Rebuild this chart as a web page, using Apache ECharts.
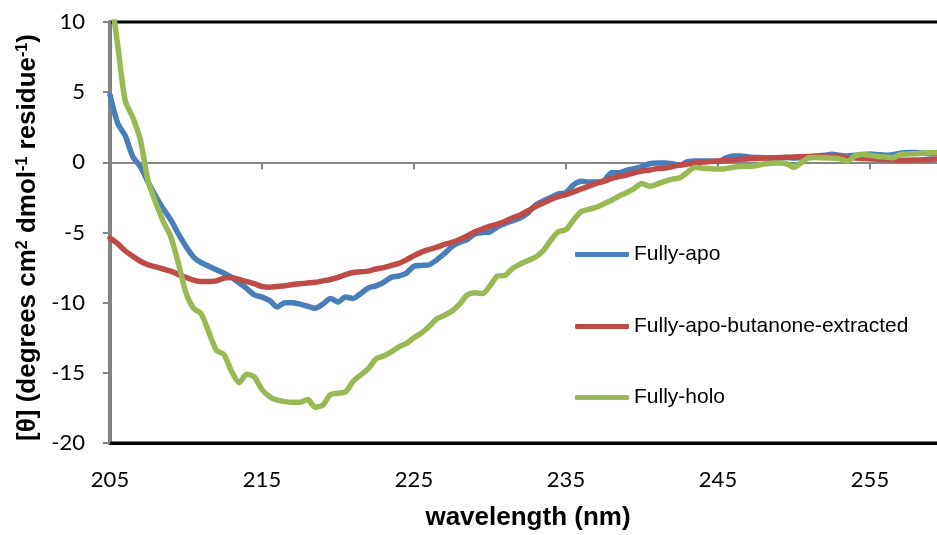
<!DOCTYPE html>
<html>
<head>
<meta charset="utf-8">
<script src="https://cdn.jsdelivr.net/npm/echarts@6/dist/echarts.min.js"></script>
<style>
html, body { margin: 0; padding: 0; background: #fff; }
#chart { width: 937px; height: 535px; }
</style>
</head>
<body>
<div id="chart"></div>
<script>
// CD spectra sampled every 0.5 nm, 205–260 nm
const wavelength = [
  205, 205.5, 206, 206.5, 207, 207.5, 208, 208.5, 209, 209.5,
  210, 210.5, 211, 211.5, 212, 212.5, 213, 213.5, 214, 214.5,
  215, 215.5, 216, 216.5, 217, 217.5, 218, 218.5, 219, 219.5,
  220, 220.5, 221, 221.5, 222, 222.5, 223, 223.5, 224, 224.5,
  225, 225.5, 226, 226.5, 227, 227.5, 228, 228.5, 229, 229.5,
  230, 230.5, 231, 231.5, 232, 232.5, 233, 233.5, 234, 234.5,
  235, 235.5, 236, 236.5, 237, 237.5, 238, 238.5, 239, 239.5,
  240, 240.5, 241, 241.5, 242, 242.5, 243, 243.5, 244, 244.5,
  245, 245.5, 246, 246.5, 247, 247.5, 248, 248.5, 249, 249.5,
  250, 250.5, 251, 251.5, 252, 252.5, 253, 253.5, 254, 254.5,
  255, 255.5, 256, 256.5, 257, 257.5, 258, 258.5, 259, 259.5,
  260
];

const fullyApo = [
  4.8, 2.8, 1.9, 0.4, -0.3, -1.4, -2.4, -3.3, -4.1, -5.1,
  -6.0, -6.75, -7.15, -7.4, -7.65, -7.9, -8.2, -8.6, -9.0, -9.45,
  -9.6, -9.85, -10.3, -10.0, -10.0, -10.1, -10.25, -10.4, -10.1, -9.7,
  -9.95, -9.6, -9.7, -9.35, -8.95, -8.8, -8.55, -8.2, -8.1, -7.9,
  -7.4, -7.35, -7.3, -6.95, -6.5, -6.0, -5.7, -5.5, -5.1, -5.0,
  -4.95, -4.6, -4.35, -4.15, -3.95, -3.6, -3.05, -2.75, -2.5, -2.25,
  -2.15, -1.6, -1.35, -1.4, -1.4, -1.3, -0.75, -0.75, -0.55, -0.45,
  -0.3, -0.1, -0.05, -0.05, -0.1, -0.2, 0.05, 0.1, 0.1, 0.1,
  0.05, 0.3, 0.45, 0.45, 0.38, 0.35, 0.33, 0.3, 0.3, 0.35,
  0.3, 0.35, 0.4, 0.45, 0.5, 0.57, 0.5, 0.45, 0.5, 0.55,
  0.6, 0.55, 0.5, 0.55, 0.65, 0.7, 0.7, 0.65, 0.6, 0.65,
  0.65
];

const fullyApoButanone = [
  -5.4, -5.8, -6.3, -6.7, -7.05, -7.3, -7.45, -7.6, -7.75, -8.0,
  -8.2, -8.4, -8.5, -8.5, -8.45, -8.25, -8.2, -8.35, -8.5, -8.65,
  -8.85, -8.9, -8.85, -8.8, -8.7, -8.65, -8.6, -8.55, -8.45, -8.35,
  -8.2, -8.0, -7.85, -7.8, -7.75, -7.6, -7.5, -7.35, -7.2, -6.95,
  -6.65, -6.4, -6.2, -6.05, -5.85, -5.7, -5.5, -5.25, -4.95, -4.75,
  -4.55, -4.4, -4.2, -3.95, -3.75, -3.45, -3.15, -2.9, -2.65, -2.45,
  -2.3, -2.1, -1.9, -1.7, -1.5, -1.35, -1.15, -1.0, -0.9, -0.75,
  -0.62, -0.55, -0.45, -0.4, -0.3, -0.2, -0.12, -0.05, 0.02, 0.06,
  0.1, 0.14, 0.17, 0.22, 0.26, 0.28, 0.3, 0.32, 0.34, 0.36,
  0.38, 0.4, 0.42, 0.43, 0.43, 0.43, 0.4, 0.35, 0.3, 0.28,
  0.25, 0.22, 0.2, 0.18, 0.15, 0.15, 0.17, 0.18, 0.2, 0.25,
  0.3
];

const fullyHolo = [
  12.4, 8.4, 4.4, 3.2, 1.6, -1.3, -2.85, -4.2, -5.3, -7.2,
  -9.3, -10.4, -10.8, -12.1, -13.4, -13.7, -14.9, -15.7, -15.1, -15.3,
  -16.2, -16.7, -16.95, -17.05, -17.1, -17.1, -16.9, -17.45, -17.3, -16.55,
  -16.45, -16.35, -15.6, -15.15, -14.7, -14.0, -13.8, -13.5, -13.15, -12.9,
  -12.5, -12.15, -11.7, -11.15, -10.9, -10.6, -10.1, -9.45, -9.3, -9.35,
  -8.8, -8.1, -8.05, -7.55, -7.25, -7.0, -6.75, -6.3, -5.55, -4.95,
  -4.8, -4.1, -3.5, -3.35, -3.2, -2.95, -2.7, -2.4, -2.15, -1.85,
  -1.5, -1.7, -1.55, -1.35, -1.2, -1.1, -0.7, -0.35, -0.42, -0.45,
  -0.47, -0.45, -0.35, -0.3, -0.28, -0.25, -0.12, -0.08, -0.05, -0.1,
  -0.35, 0.0, 0.33, 0.35, 0.33, 0.3, 0.25, 0.08, 0.45, 0.58,
  0.5, 0.42, 0.38, 0.33, 0.55, 0.6, 0.62, 0.65, 0.68, 0.7,
  0.72
];

const seriesNames = ['Fully-apo', 'Fully-apo-butanone-extracted', 'Fully-holo'];
const seriesColors = ['#4A7EBB', '#BE4B48', '#98B954'];
const seriesValues = [fullyApo, fullyApoButanone, fullyHolo];

const xTicks = { min: 205, max: 260, interval: 10 };
const yTicks = { min: -20, max: 10, interval: 5 };

const tickFont = "Lato, 'Liberation Sans', sans-serif";
const titleFont = "'Liberation Sans', Arial, sans-serif";
const axisGrey = '#868686';

const chart = echarts.init(document.getElementById('chart'), null, { renderer: 'canvas' });

const legendRows = [255, 327, 398];

chart.setOption({
  animation: false,
  backgroundColor: '#ffffff',
  grid: {
    left: 110, top: 22, width: 836, height: 421,
    show: true, borderColor: '#000000', borderWidth: 3,
    backgroundColor: 'transparent',
    containLabel: false, outerBoundsMode: 'none'
  },
  xAxis: [
    {
      // bottom frame with the wavelength labels
      type: 'value', min: xTicks.min, max: xTicks.max, interval: xTicks.interval,
      position: 'bottom',
      axisLine: { show: true, onZero: false, lineStyle: { color: '#000', width: 3 } },
      axisTick: { show: false }, splitLine: { show: false },
      axisLabel: {
        margin: 26, fontFamily: tickFont, fontSize: 22, color: '#000',
        showMaxLabel: false, hideOverlap: false
      },
      name: 'wavelength (nm)', nameLocation: 'middle', nameGap: 62,
      nameTextStyle: { fontFamily: titleFont, fontWeight: 'bold', fontSize: 26, color: '#000' }
    },
    {
      // axis line crossing at zero, ticks hanging below it
      type: 'value', min: xTicks.min, max: xTicks.max, interval: xTicks.interval,
      position: 'bottom',
      axisLine: { show: true, onZero: true, lineStyle: { color: axisGrey, width: 2 } },
      axisTick: { show: true, length: 7, lineStyle: { color: axisGrey, width: 2 } },
      axisLabel: { show: false }, splitLine: { show: false }
    }
  ],
  yAxis: {
    type: 'value', min: yTicks.min, max: yTicks.max, interval: yTicks.interval,
    axisLine: { show: true, onZero: false, lineStyle: { color: axisGrey, width: 2 } },
    axisTick: { show: true, length: 7, lineStyle: { color: axisGrey, width: 2 } },
    splitLine: { show: false },
    axisLabel: { margin: 25, fontFamily: tickFont, fontSize: 22, color: '#000' },
    name: '{b|[θ] (degrees cm}{s|2}{b| dmol}{s|-1}{b| residue}{s|-1}{b|)}',
    nameLocation: 'middle', nameGap: 68, nameRotate: 90,
    nameTextStyle: {
      color: '#000',
      padding: [0, 10, 0, 0],
      rich: {
        b: { fontFamily: titleFont, fontWeight: 'bold', fontSize: 26, color: '#000' },
        s: { fontFamily: titleFont, fontWeight: 'bold', fontSize: 16, color: '#000', verticalAlign: 'top' }
      }
    }
  },
  legend: seriesNames.map((name, i) => ({
    data: [name],
    orient: 'vertical',
    left: 575, top: legendRows[i] - 11,
    padding: 0,
    icon: 'roundRect',
    itemWidth: 54, itemHeight: 5,
    selectedMode: false,
    textStyle: { fontFamily: titleFont, fontSize: 21, color: '#000' }
  })),
  series: seriesValues.map((vals, i) => ({
    name: seriesNames[i],
    type: 'line',
    xAxisIndex: 0,
    data: wavelength.map((w, k) => [w, vals[k]]),
    showSymbol: false, symbol: 'none',
    smooth: 0.25,
    clip: true,
    color: seriesColors[i],
    lineStyle: { color: seriesColors[i], width: 5.5, cap: 'round', join: 'round' },
    emphasis: { disabled: true }
  }))
});
</script>
</body>
</html>
